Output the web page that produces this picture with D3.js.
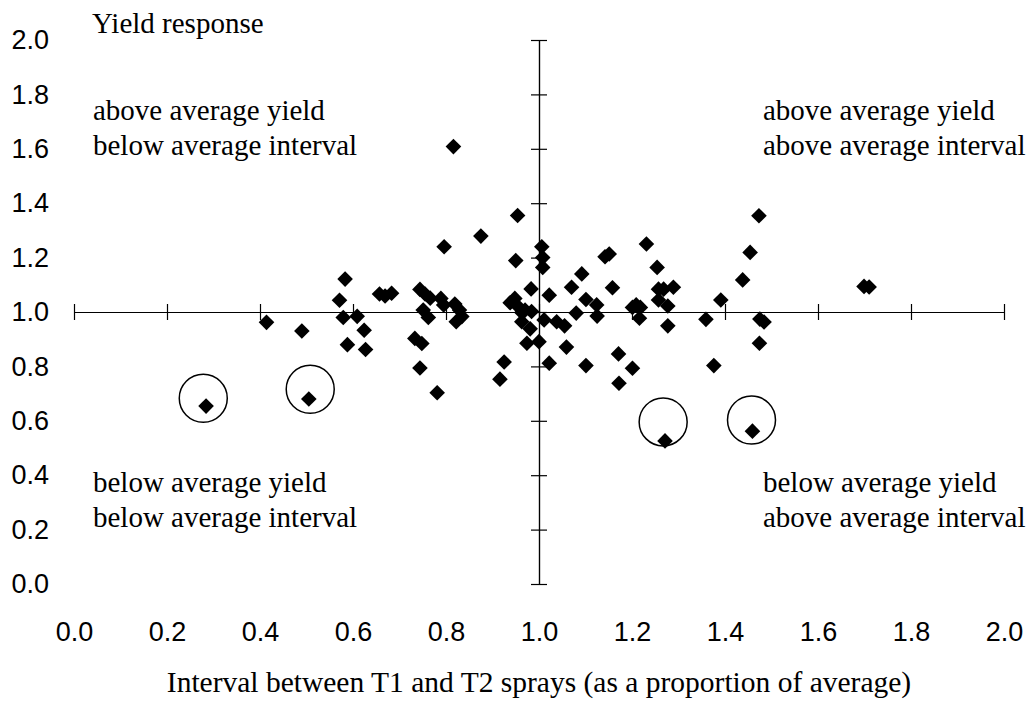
<!DOCTYPE html>
<html>
<head>
<meta charset="utf-8">
<script src="https://cdn.jsdelivr.net/npm/d3@7"></script>
<style>
  html, body { margin: 0; padding: 0; background: #fff; }
  svg { display: block; }
  .tick-label text { font-family: "Liberation Sans", Arial, sans-serif; font-size: 27px; fill: #000; }
  .note { font-family: "Liberation Serif", "Times New Roman", serif; font-size: 29px; fill: #000; }
  .axis-title { font-size: 29.5px; }
</style>
</head>
<body>
<svg id="chart" width="1030" height="705"></svg>
<script>
// Interval between T1 and T2 sprays (proportion of average)
const interval = [
  0.284, 0.505, 0.414, 0.490, 0.583, 0.571, 0.579, 0.609, 0.624, 0.588,
  0.627, 0.657, 0.669, 0.683, 0.744, 0.755, 0.766, 0.751, 0.762, 0.733,
  0.748, 0.744, 0.781, 0.789, 0.795, 0.819, 0.829, 0.834, 0.822, 0.796,
  0.816, 0.875, 0.954, 0.950, 1.006, 1.008, 1.008, 0.983, 0.938, 0.948,
  0.955, 0.963, 0.970, 0.984, 0.963, 0.981, 0.974, 1.000, 0.925, 0.916,
  1.011, 1.022, 1.038, 1.055, 1.059, 1.022, 1.070, 1.080, 1.092, 1.101,
  1.101, 1.124, 1.125, 1.142, 1.151, 1.158, 1.171, 1.172, 1.201, 1.201,
  1.209, 1.218, 1.216, 1.231, 1.254, 1.257, 1.268, 1.289, 1.257, 1.277,
  1.277, 1.271, 1.359, 1.376, 1.391, 1.438, 1.454, 1.473, 1.475, 1.484,
  1.474, 1.459, 1.699, 1.710
];
// Yield response (proportion of average)
const yieldResp = [
  0.654, 0.680, 0.962, 0.930, 1.121, 1.043, 0.980, 0.984, 0.933, 0.880,
  0.862, 1.066, 1.059, 1.069, 1.083, 1.066, 1.051, 1.007, 0.980, 0.903,
  0.884, 0.794, 0.703, 1.050, 1.026, 1.029, 1.007, 0.983, 0.964, 1.240,
  1.608, 1.279, 1.355, 1.189, 1.240, 1.200, 1.164, 1.085, 1.034, 1.050,
  1.020, 0.998, 1.007, 1.002, 0.964, 0.938, 0.885, 0.891, 0.816, 0.753,
  0.971, 1.062, 0.964, 0.949, 0.871, 0.812, 1.091, 0.996, 1.140, 1.046,
  0.803, 1.026, 0.985, 1.203, 1.213, 1.089, 0.846, 0.738, 0.793, 1.017,
  1.026, 1.017, 0.977, 1.250, 1.164, 1.084, 1.084, 1.091, 1.044, 1.022,
  0.949, 0.526, 0.973, 0.803, 1.044, 1.118, 1.219, 1.354, 0.974, 0.963,
  0.885, 0.562, 1.094, 1.092
];

// Ringed outliers: circle centres in data units
const ringX = [0.278, 0.508, 1.267, 1.457];
const ringY = [0.683, 0.716, 0.596, 0.603];

// Axis tick values (both axes run 0.0 to 2.0)
const tickValues = [0.0, 0.2, 0.4, 0.6, 0.8, 1.0, 1.2, 1.4, 1.6, 1.8, 2.0];

// Text annotations
const yTitle = "Yield response";
const xTitle = "Interval between T1 and T2 sprays (as a proportion of average)";
const quadrantText = [
  ["above average yield", "below average interval"],
  ["above average yield", "above average interval"],
  ["below average yield", "below average interval"],
  ["below average yield", "above average interval"]
];

const svg = d3.select("#chart");

const x = d3.scaleLinear().domain([0, 2]).range([74, 1004]);
const y = d3.scaleLinear().domain([0, 2]).range([584, 40]);
const fmt = d3.format(".1f");

// Crosshair axes through (1, 1), with ticks crossing the line
const tick = 8;
const hAxis = svg.append("g").attr("transform", `translate(0,${y(1)})`);
hAxis.append("g").call(d3.axisBottom(x).tickValues(tickValues).tickSize(tick).tickSizeOuter(0).tickFormat(""));
hAxis.append("g").call(d3.axisTop(x).tickValues(tickValues).tickSize(tick).tickSizeOuter(0).tickFormat(""));
const vAxis = svg.append("g").attr("transform", `translate(${x(1)},0)`);
vAxis.append("g").call(d3.axisLeft(y).tickValues(tickValues).tickSize(tick).tickSizeOuter(0).tickFormat(""));
vAxis.append("g").call(d3.axisRight(y).tickValues(tickValues).tickSize(tick).tickSizeOuter(0).tickFormat(""));
svg.selectAll(".domain, .tick line").attr("stroke", "#000").attr("stroke-width", 1.2);

// Tick labels along the left and bottom edges
const yLab = svg.append("g").attr("class", "tick-label")
  .attr("transform", "translate(49,0)")
  .call(d3.axisLeft(y).tickValues(tickValues).tickSize(0).tickPadding(0).tickFormat(fmt));
const xLab = svg.append("g").attr("class", "tick-label")
  .attr("transform", "translate(0,622)")
  .call(d3.axisBottom(x).tickValues(tickValues).tickSize(0).tickPadding(0).tickFormat(fmt));
[yLab, xLab].forEach(g => {
  g.select(".domain").remove();
  g.attr("font-size", null).attr("font-family", null);
});

// Data points: black diamonds
const pts = interval.map((v, i) => ({ x: v, y: yieldResp[i] }));
const diamond = d3.symbol().type(d3.symbolSquare).size(122);
svg.append("g").selectAll("path").data(pts).join("path")
  .attr("d", diamond)
  .attr("transform", d => `translate(${x(d.x)},${y(d.y)}) rotate(45)`)
  .attr("fill", "#000");

// Rings around the four low-yield outliers
svg.append("g").selectAll("circle").data(ringX).join("circle")
  .attr("cx", d => x(d))
  .attr("cy", (d, i) => y(ringY[i]))
  .attr("r", 24)
  .attr("fill", "none")
  .attr("stroke", "#000")
  .attr("stroke-width", 1.5);

// Titles and quadrant notes
svg.append("text").attr("class", "note").attr("x", 92).attr("y", 33).text(yTitle);
svg.append("text").attr("class", "note axis-title").attr("x", x(1)).attr("y", 692)
  .attr("text-anchor", "middle").text(xTitle);

const notePos = [
  { x: 93, y: 120 }, { x: 763, y: 120 },
  { x: 93, y: 492 }, { x: 763, y: 492 }
];
quadrantText.forEach((lines, i) => {
  lines.forEach((t, j) => {
    svg.append("text").attr("class", "note")
      .attr("x", notePos[i].x).attr("y", notePos[i].y + j * 35)
      .text(t);
  });
});
</script>
</body>
</html>
